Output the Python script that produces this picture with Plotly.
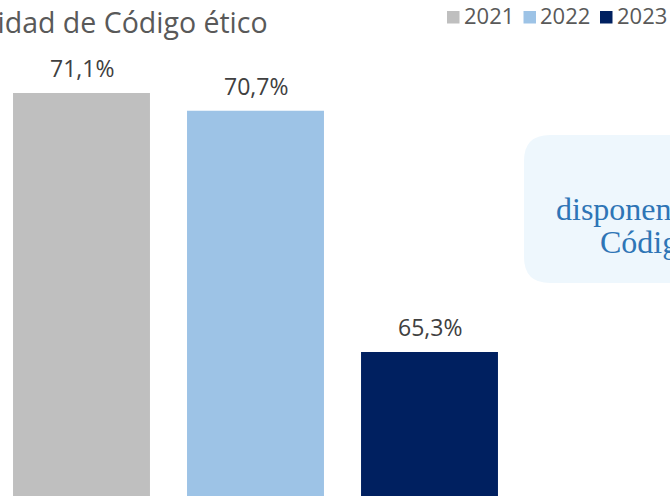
import plotly.graph_objects as go

categories = ["Disponibilidad de Código ético"]
years = ["2021", "2022", "2023"]
values = [71.1, 70.7, 65.3]
colors = ["#BFBFBF", "#9DC3E6", "#002060"]

title_text = "Disponibilidad de Código ético"
callout_line1 = "disponen de un"
callout_line2 = "Código ético"

W, H = 670, 496


def px(x):
    return x / W


def py(y):
    return 1 - y / H


fig = go.Figure()
n = len(years)
for i, (yr, v, c) in enumerate(zip(years, values, colors)):
    fig.add_trace(go.Bar(
        x=categories, y=[v], name=yr, marker=dict(color=c, line=dict(width=0)),
        hoverinfo="skip", showlegend=False,
    ))
    fig.add_annotation(
        x=(i - (n - 1) / 2) / n, y=v, xref="x", yref="y",
        text=f"{v:.1f}%".replace(".", ","), showarrow=False,
        xanchor="center", yanchor="bottom", yshift=7,
        font=dict(family="Open Sans", size=23, color="#404040"),
    )
    # legend entry
    sx = 447 + i * 76.5
    fig.add_shape(type="rect", xref="paper", yref="paper",
                  x0=px(sx), x1=px(sx + 12.5), y0=py(23.5), y1=py(11),
                  fillcolor=c, line=dict(width=0))
    fig.add_annotation(xref="paper", yref="paper", x=px(sx + 14.5), y=py(32),
                       xanchor="left", yanchor="bottom", showarrow=False,
                       text=yr, font=dict(family="Open Sans", size=22, color="#595959"))

y_top_val = 73.18
y_bot_val = 62.075
fig.update_layout(
    width=W, height=H,
    margin=dict(l=0, r=0, t=0, b=0),
    paper_bgcolor="white", plot_bgcolor="white",
    barmode="group", bargap=0.0, bargroupgap=0.213,
    separators=",.",
    font=dict(family="Open Sans", color="#595959"),
    showlegend=False,
    xaxis=dict(range=[-255.5 / 522, (W - 255.5) / 522],
               visible=False, fixedrange=True),
    yaxis=dict(range=[y_bot_val, y_top_val], visible=False, fixedrange=True),
)

# callout box with rounded corners (paper coordinates)
x0, x1 = px(524), px(830)
y0, y1 = py(283), py(135)
rx, ry = 26 / W, 26 / H
path = (f"M {x0+rx},{y1} L {x1-rx},{y1} Q {x1},{y1} {x1},{y1-ry} "
        f"L {x1},{y0+ry} Q {x1},{y0} {x1-rx},{y0} L {x0+rx},{y0} "
        f"Q {x0},{y0} {x0},{y0+ry} L {x0},{y1-ry} Q {x0},{y1} {x0+rx},{y1} Z")
fig.add_shape(type="path", xref="paper", yref="paper", path=path,
              fillcolor="#EEF7FD", line=dict(width=0), layer="below")

fig.add_annotation(xref="paper", yref="paper", x=px(270), y=py(1),
                   xanchor="right", yanchor="top", showarrow=False,
                   text=title_text,
                   font=dict(family="Open Sans", size=28.5, color="#595959"))
fig.add_annotation(xref="paper", yref="paper", x=px(554), y=py(229),
                   xanchor="left", yanchor="bottom", showarrow=False,
                   text=callout_line1,
                   font=dict(family="Liberation Serif", size=32, color="#2E75B6"))
fig.add_annotation(xref="paper", yref="paper", x=px(598), y=py(262),
                   xanchor="left", yanchor="bottom", showarrow=False,
                   text=callout_line2,
                   font=dict(family="Liberation Serif", size=32, color="#2E75B6"))

fig.write_html("out.html",
               config={"displayModeBar": False},
               post_script="document.body.style.margin='0';"
                           "document.body.style.overflow='hidden';")
